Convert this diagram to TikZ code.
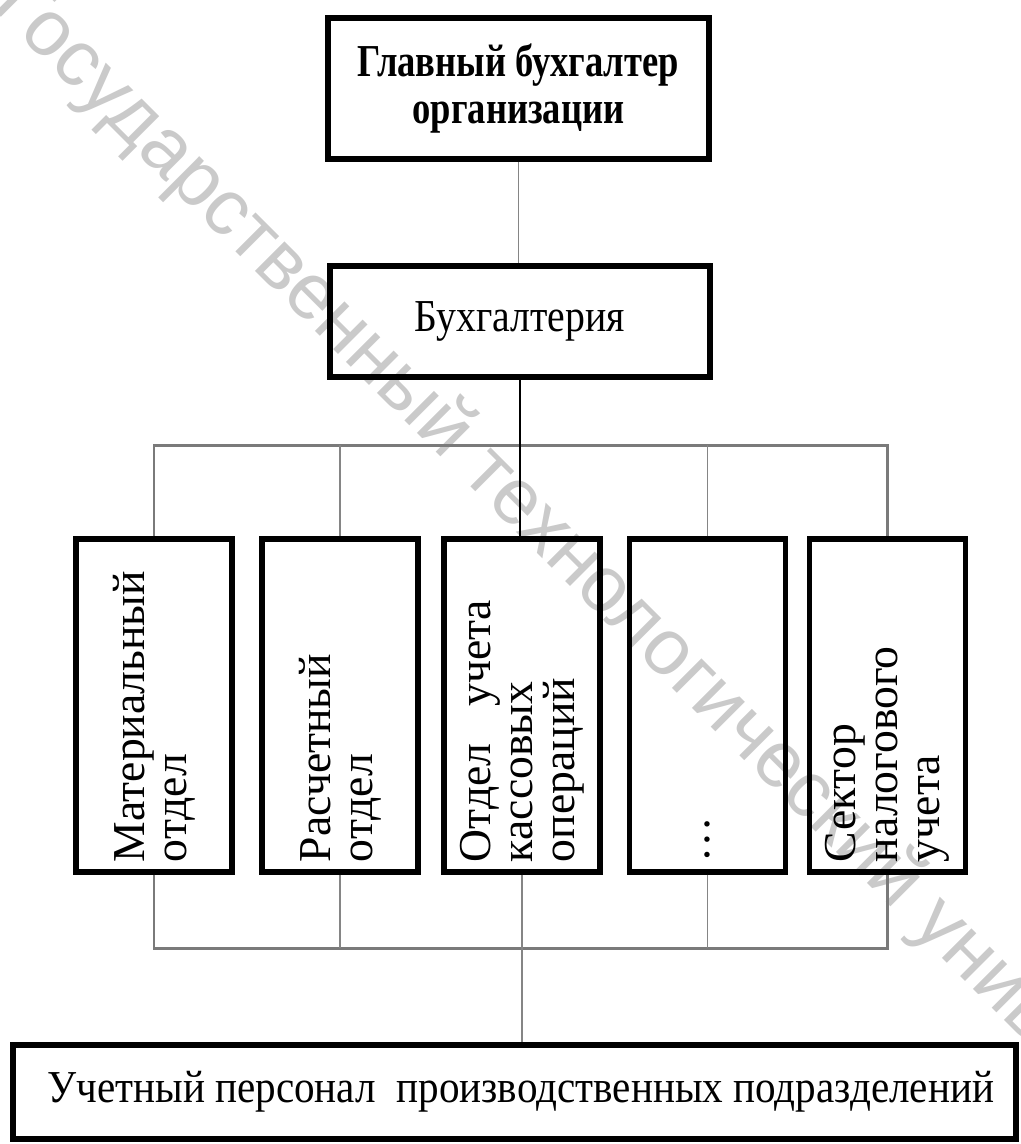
\documentclass[tikz,border=0pt]{standalone}
\usepackage{fontspec}
\setmainfont{Liberation Serif}
\newfontfamily\headfont{Liberation Serif}[FakeStretch=0.8]
\newfontfamily\narrowfont{Liberation Serif}[FakeStretch=0.87]
\newfontfamily\stafffont{Liberation Serif}[FakeStretch=0.9]
\newfontfamily\markfont{Liberation Sans}
\definecolor{linkgray}{HTML}{858585}
\definecolor{busgray}{HTML}{7A7A7A}
\definecolor{markgray}{HTML}{CACACA}

\begin{document}
\begin{tikzpicture}[
    box/.style={draw, line width=3.3pt, inner sep=0pt},
    unit/.style={draw, line width=3.1pt, rotate=90, minimum width=\unitheight cm, minimum height=\unitwidth cm,
        text width=(\unitheight-2*\unitpadding)*1cm, inner xsep=\unitpadding cm, inner ysep=0pt, align=left, font=\unitfontsize},
    link/.style={line width=1.1pt, color=linkgray},
    bus/.style={line width=1.7pt, color=busgray}
]
    \pgfmathsetmacro{\unitwidth}{3.12}
    \pgfmathsetmacro{\unitheight}{6.66}
    \pgfmathsetmacro{\unitpadding}{0.2}
    \pgfmathsetmacro{\unity}{-14.11}
    \providecommand{\headfontsize}{\fontsize{26}{26.7}\selectfont}
    \providecommand{\unitfontsize}{\fontsize{26}{23.9}\selectfont}
    \providecommand{\staffontsize}{\fontsize{26}{28}\selectfont}
    \useasboundingbox (0,0) rectangle (20.42,-22.88);
    % watermark behind everything
    \node[rotate=-45, anchor=base west, inner sep=0pt, text=markgray, font=\markfont\fontsize{45}{45}\selectfont] (mark) at (-0.18,-0.14)
    {Государственный технологический университет};
    % upper levels
    \node[box, minimum width=7.62cm, minimum height=2.82cm, align=center, font=\headfont\bfseries\headfontsize] (chief) at (10.37,-1.77)
    {Главный бухгалтер\\организации};
    \node[box, minimum width=7.60cm, minimum height=2.22cm, font=\narrowfont\headfontsize] (dept) at (10.40,-6.43) {Бухгалтерия};
    % departments
    \node[unit] (u1) at (3.08,\unity) {Материальный\\отдел};
    \node[unit] (u2) at (6.80,\unity) {Расчетный\\отдел};
    \node[unit] (u3) at (10.44,\unity) {Отдел\hspace{0.8em}учета\\кассовых\\операций};
    \node[unit] (u4) at (14.15,\unity) {\dots};
    \node[unit] (u5) at (17.75,\unity) {Сектор\\налогового\\учета};
    \node[box, minimum width=20.06cm, minimum height=1.88cm, font=\stafffont\staffontsize] (staff) at (10.29,-21.84)
    {\hspace{0.25cm}Учетный персонал~ производственных подразделений};
    \coordinate (upbus) at (0,-8.90);
    \coordinate (lowbus) at (0,-18.96);
    % connectors
    \draw[link] (chief.south) -- (chief.south |- dept.north);
    \draw[bus] (u1.east) -- (u1.east |- upbus) -- (u5.east |- upbus) -- (u5.east);
    \draw[link] (u2.east) -- (u2.east |- upbus);
    \draw[link] (u4.east) -- (u4.east |- upbus);
    \draw[line width=1.1pt] (dept.south) -- (dept.south |- u3.east);
    \draw[bus] (u1.west) -- (u1.west |- lowbus) -- (u5.west |- lowbus) -- (u5.west);
    \draw[link] (u2.west) -- (u2.west |- lowbus);
    \draw[link] (u4.west) -- (u4.west |- lowbus);
    \draw[link] (u3.west) -- (u3.west |- staff.north);
\end{tikzpicture}
\end{document}
